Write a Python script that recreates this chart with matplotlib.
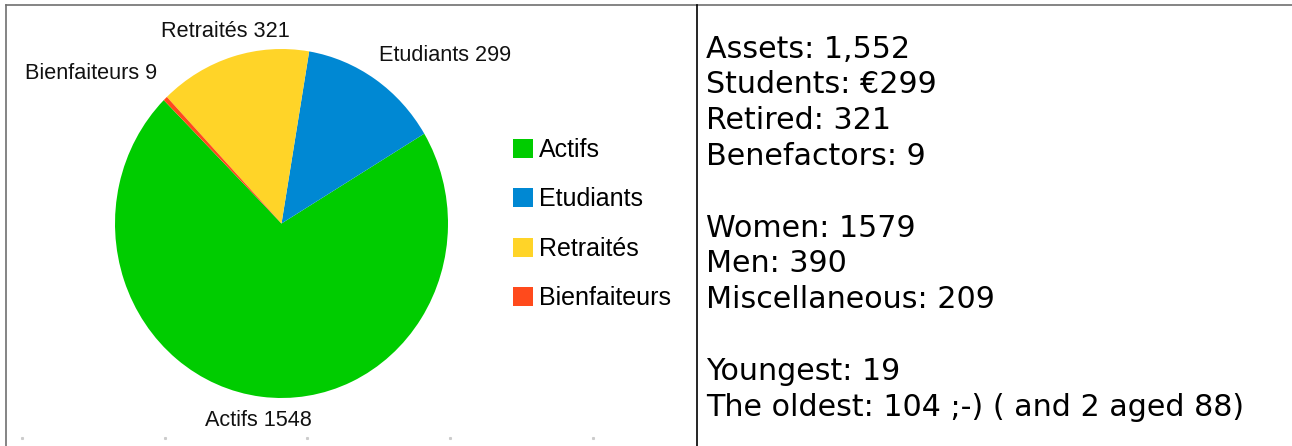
import matplotlib
matplotlib.use("Agg")
import matplotlib.pyplot as plt
from matplotlib.lines import Line2D
import numpy as np

# ---- data ----
categories = ["Actifs", "Etudiants", "Retraités", "Bienfaiteurs"]
values = [1548, 299, 321, 9]
colors = ["#00CC00", "#0088D3", "#FFD428", "#FF4A1C"]
info_lines = [
    "Assets: 1,552",
    "Students: €299",
    "Retired: 321",
    "Benefactors: 9",
    "",
    "Women: 1579",
    "Men: 390",
    "Miscellaneous: 209",
    "",
    "Youngest: 19",
    "The oldest: 104 ;-) ( and 2 aged 88)",
]

# label placement per wedge (distance factor, angle nudge, horizontal alignment)
label_dist = [1.135, 1.13, 1.15, 1.14]
label_nudge = [0.0, 3.0, 0.0, -3.2]
label_ha = ["center", "left", "center", "right"]

W, H = 1292, 446
fig = plt.figure(figsize=(W / 100, H / 100), dpi=100)
fig.patch.set_facecolor("white")


def fx(px):
    return px / W


def fy(py):
    return 1 - py / H


# ---- pie ----
left, right, top, bottom = 115, 448, 49, 398
ax = fig.add_axes([fx(left), fy(bottom), (right - left) / W, (bottom - top) / H])
wedges, _ = ax.pie(values, colors=colors, startangle=135.0, counterclock=True,
                   radius=1, wedgeprops=dict(linewidth=0))
ax.set_aspect("auto")
ax.set_xlim(-1, 1)
ax.set_ylim(-1, 1)
ax.axis("off")

label_font = dict(family="Liberation Sans", size=15.6, color="#111111")
for w, cat, v, d, nd, ha in zip(wedges, categories, values, label_dist,
                                label_nudge, label_ha):
    mid = np.deg2rad((w.theta1 + w.theta2) / 2 + nd)
    ax.text(d * np.cos(mid), d * np.sin(mid), f"{cat} {v}", ha=ha, va="center",
            fontdict=label_font, clip_on=False)

# ---- legend ----
fig.legend(wedges, categories, loc="center left",
           bbox_to_anchor=(fx(513), fy(224)), frameon=False,
           prop=dict(family="Liberation Sans", size=18),
           handlelength=0.8, handleheight=0.8, handletextpad=0.25,
           labelspacing=1.02, borderpad=0, borderaxespad=0)

# ---- right-hand text ----
for i, line in enumerate(info_lines):
    if line:
        fig.text(fx(706), fy(49 + 35.8 * i), line, ha="left", va="center",
                 family="DejaVu Sans", size=21.7, color="black")

# ---- table borders ----
lw = 1.2
fig.add_artist(Line2D([fx(6), 1], [fy(5), fy(5)], color="#707070", lw=lw,
                      transform=fig.transFigure))
fig.add_artist(Line2D([fx(6), fx(6)], [fy(5), 0], color="#707070", lw=lw,
                      transform=fig.transFigure))
fig.add_artist(Line2D([fx(697), fx(697)], [fy(5), 0], color="black", lw=lw,
                      transform=fig.transFigure))

# faint tick dots at the bottom of the chart cell
for px in [22, 165, 307, 450, 593]:
    fig.add_artist(Line2D([fx(px)], [fy(438)], marker="s", markersize=1.2,
                          color="#cccccc", lw=0, transform=fig.transFigure))

fig.savefig("out.png", dpi=100, facecolor="white")
